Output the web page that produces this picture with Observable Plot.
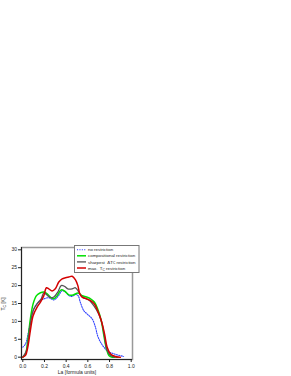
<!DOCTYPE html>
<html><head><meta charset="utf-8">
<script src="https://cdn.jsdelivr.net/npm/d3@7"></script>
<script src="https://cdn.jsdelivr.net/npm/@observablehq/plot@0.6"></script>
<style>body{margin:0;background:#fff;} svg{display:block;}</style>
</head><body><div id="chart"></div>
<script>
const xTicks = [0, 0.2, 0.4, 0.6, 0.8, 1.0];
const yTicks = [0, 5, 10, 15, 20, 25, 30];

const xNone = [0, 0.025, 0.055, 0.086, 0.117, 0.163, 0.194, 0.24, 0.286, 0.33, 0.363, 0.394, 0.425, 0.455, 0.486, 0.51, 0.53, 0.563, 0.6, 0.64, 0.67, 0.69, 0.717, 0.748, 0.785, 0.825, 0.87, 0.93];
const yNone = [2.8, 3.7, 7.5, 12, 14.4, 15.8, 16.3, 16.6, 16.0, 17.2, 18.6, 18.2, 17.2, 17.0, 17.5, 17.2, 15.4, 13, 11.9, 10.7, 8.4, 6, 4.2, 2.8, 1.6, 1.1, 0.65, 0.2];

const xComp = [0, 0.025, 0.046, 0.07, 0.095, 0.126, 0.163, 0.194, 0.225, 0.255, 0.286, 0.317, 0.354, 0.385, 0.425, 0.465, 0.51, 0.548, 0.588, 0.625, 0.66, 0.69, 0.723, 0.748, 0.772, 0.794, 0.825, 0.85];
const yComp = [0, 0.9, 4.7, 10.7, 14.9, 17.2, 18, 18.2, 17.7, 16.8, 16.3, 17.2, 18.8, 18.5, 17.4, 17.4, 17.9, 17.2, 16.8, 16.3, 15.4, 13.5, 10.3, 6, 2.3, 0.5, 0, 0];

const xSharp = [0, 0.034, 0.065, 0.095, 0.132, 0.17, 0.194, 0.218, 0.255, 0.286, 0.323, 0.354, 0.385, 0.415, 0.455, 0.486, 0.517, 0.548, 0.588, 0.618, 0.655, 0.7, 0.732, 0.754, 0.778, 0.81, 0.855, 0.88];
const ySharp = [0, 1.9, 8.4, 13, 14.9, 16.3, 18, 17.5, 16.6, 16.8, 18.2, 20, 19.8, 19.1, 19.1, 19.4, 18.2, 16.8, 16.3, 15.8, 14.4, 12.1, 9.3, 5.6, 1.9, 0.5, 0, 0];

const xMax = [0, 0.025, 0.046, 0.07, 0.095, 0.132, 0.163, 0.194, 0.218, 0.24, 0.27, 0.3, 0.332, 0.363, 0.394, 0.425, 0.455, 0.486, 0.508, 0.526, 0.548, 0.588, 0.625, 0.66, 0.69, 0.723, 0.754, 0.778, 0.81, 0.855, 0.9];
const yMax = [0, 0.5, 2.8, 7.5, 11.6, 14, 15.4, 17.2, 19.4, 19.1, 18.5, 19.1, 21, 21.9, 22.2, 22.4, 22.6, 21.6, 20, 17.7, 16.8, 16.3, 15.8, 14.9, 13, 10.3, 6.5, 2.8, 0.9, 0.2, 0];

const toRows = (xs, ys) => xs.map((x, i) => ({x, y: ys[i]}));
const font = '"Liberation Sans", Arial, sans-serif';

const plot = Plot.plot({
  width: 291, height: 376,
  marginLeft: 21, marginRight: 159, marginTop: 247, marginBottom: 17,
  style: {fontFamily: font, fontSize: "5px", color: "#222", background: "#fff"},
  x: {domain: [-0.012, 1.012]},
  y: {domain: [-0.65, 30.65]},
  marks: [
    Plot.frame({stroke: "#999", strokeWidth: 1.5}),
    Plot.line(toRows(xNone, yNone), {x: "x", y: "y", stroke: "#3344ff", strokeWidth: 1.1, strokeDasharray: "1.1,1.3", curve: "catmull-rom"}),
    Plot.line(toRows(xComp, yComp), {x: "x", y: "y", stroke: "#00e000", strokeWidth: 1.5, curve: "catmull-rom"}),
    Plot.line(toRows(xSharp, ySharp), {x: "x", y: "y", stroke: "#555555", strokeWidth: 1.3, curve: "catmull-rom"}),
    Plot.line(toRows(xMax, yMax), {x: "x", y: "y", stroke: "#d40000", strokeWidth: 1.5, curve: "catmull-rom"}),
    Plot.ruleX([-0.012], {stroke: "#222", strokeWidth: 1}),
    Plot.ruleY([-0.65], {stroke: "#222", strokeWidth: 1}),
    Plot.axisX({ticks: xTicks, tickFormat: d => d.toFixed(1), tickSize: 3, tickPadding: 1.5, label: "La [formula units]", labelAnchor: "center", labelArrow: "none", labelOffset: 14}),
    Plot.axisY({ticks: yTicks, tickSize: 3, tickPadding: 1.5, label: null})
  ]
});
document.getElementById("chart").appendChild(plot);

const svg = d3.select(plot);
// y-axis label with subscript
const yl = svg.append("text")
  .attr("transform", "translate(5,304) rotate(-90)")
  .attr("text-anchor", "middle")
  .attr("font-family", font).attr("font-size", 5).attr("fill", "#222");
yl.append("tspan").text("T");
yl.append("tspan").attr("font-size", 3.5).attr("dy", 1).text("C");
yl.append("tspan").attr("dy", -1).text(" [K]");

// legend
const legendItems = [
  {parts: [["no restriction"]], stroke: "#3344ff", dash: "1.1,1.3", w: 1.1},
  {parts: [["compositional restriction"]], stroke: "#00e000", dash: null, w: 1.5},
  {parts: [["sharpest  \u0394T"], ["C", "sub"], [" restriction"]], stroke: "#555555", dash: null, w: 1.3},
  {parts: [["max.  T"], ["C", "sub"], [" restriction"]], stroke: "#d40000", dash: null, w: 1.5}
];
const lg = svg.append("g").attr("text-anchor", "start");
lg.append("rect").attr("x", 74.5).attr("y", 245.5).attr("width", 64.5).attr("height", 27)
  .attr("fill", "#fff").attr("stroke", "#777").attr("stroke-width", 1);
legendItems.forEach((it, i) => {
  const y = 249.7 + i * 6.1;
  lg.append("line").attr("x1", 77).attr("x2", 86).attr("y1", y).attr("y2", y)
    .attr("stroke", it.stroke).attr("stroke-width", it.w).attr("stroke-dasharray", it.dash);
  const t = lg.append("text").attr("x", 88).attr("y", y + 1.6).attr("text-anchor", "start")
    .attr("font-family", font).attr("font-size", 4.4).attr("fill", "#222");
  let shifted = false;
  it.parts.forEach(([s, k]) => {
    const ts = t.append("tspan").text(s);
    if (k === "sub") { ts.attr("font-size", 3.2).attr("dy", 0.9); shifted = true; }
    else if (shifted) { ts.attr("dy", -0.9); shifted = false; }
  });
});
</script>
</body></html>
